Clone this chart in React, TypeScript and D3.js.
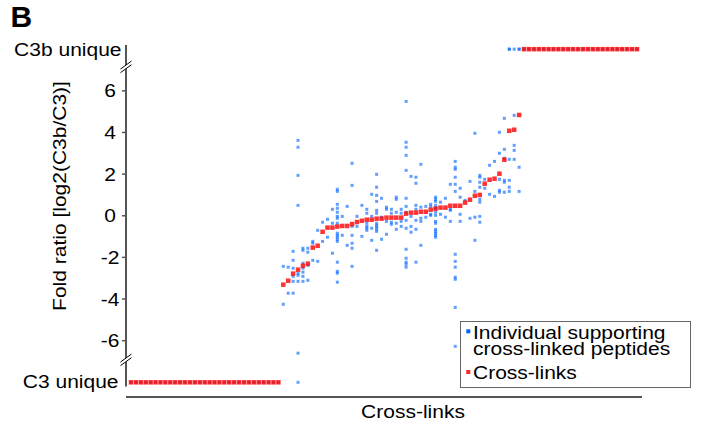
import React from 'react';
import * as d3 from 'd3';

// ---- data ----
const nC3Unique = 31; // cross-links found only in C3
const nC3bUnique = 24; // cross-links found only in C3b
const crossLinkRatios = [
  -3.31, -3.12, -2.78, -2.59, -2.4, -2.3, -1.53, -1.44, -0.77, -0.57, -0.57, -0.52, -0.49,
  -0.49, -0.4, -0.3, -0.24, -0.19, -0.19, -0.14, -0.14, -0.09, -0.09, -0.09, -0.09, 0.1,
  0.15, 0.15, 0.19, 0.19, 0.29, 0.34, 0.39, 0.39, 0.48, 0.48, 0.48, 0.63, 0.77, 0.96, 1.0,
  1.54, 1.73, 1.78, 2.02, 2.69, 4.08, 4.13, 4.84,
];
// individual supporting peptides for each quantified cross-link ('C3' / 'C3b' = unique)
const peptideRatios: (number | string)[][] = [
  [-2.43, -4.25],
  [-2.47, -3.72],
  [-1.71, -2.14, -2.52, -2.91, -3.15, -3.72],
  [3.62, 3.29, 1.94, 0.5, -2.76, -2.86, -3.15, -6.6, 'C3'],
  [-1.56, -1.66, -2.28, -2.52, -2.71, -2.91, -3.15],
  [-1.56, -1.75, -2.38, -3.1],
  [-1.23, -1.32, -2.14],
  [-0.7, -2.19],
  [-0.31, -1.23],
  [-0.17, -1.03],
  [0.31, -0.36, -1.8],
  [1.27, 1.17, 0.55, 0.36, 0.17, -0.03, -0.12, -0.36, -0.84, -0.94, -1.03, -1.13, -1.23, -2.23, -2.67, -2.76, -3.19],
  [-0.03, -0.94],
  [0.45, -1.42],
  [2.52, 1.46, -0.51, -0.94, -1.32, -1.56, -2.43],
  [-0.03, -0.51],
  [0.5, -0.99],
  [0.31, 0.12, -0.36, -0.51, -0.6, -0.7],
  [1.03, -0.03, -0.6, -1.18],
  [1.99, 1.37, 0.98, 0.69, 0.26, 0.12, -0.36, -0.46, -0.55, -0.65, -0.75, -1.66],
  [0.84, -0.07, -1.13],
  [0.41, 0.31, -0.27, -0.89],
  [0.31, 0.12, -0.31, -0.41],
  [0.89, 0.79, 0.17, -0.36, -0.65],
  [0.31, 0.12, -0.27, -0.51],
  [5.49, 3.53, 3.29, 2.9, 2.18, 0.84, 0.45, 0.17, -0.22, -0.6, -1.61, -2.04, -2.23, -2.33, -2.47],
  [1.89, -0.03, -0.51, -0.79],
  [1.85, 1.56, 0.5, 0.31, -0.22, -0.65, -2.23],
  [2.47, 0.41, -0.12, -0.27, -1.42],
  [0.45, -0.07],
  [0.55, 0.45, 0.07, 0.02],
  [0.89, 0.79, 0.69, 0.5, 0.36, 0.17, 0.02, -0.27, -0.36, -0.65, -0.75, -0.84, -0.94, -1.03],
  [0.65, 0.07],
  [0.84, -0.07],
  [1.51, 0.31, 0.26, -0.27],
  [2.61, 2.33, 2.23, 1.85, 1.51, 1.17, -1.85, -2.19, -2.47, -2.95, -3.05, -4.4, -6.27],
  [1.32, 0.89, 0.07, -0.27],
  [0.74],
  [1.65, -0.12],
  [3.96, 1.17, -0.07, -1.18],
  [1.94, 1.85, 1.61, 1.37, 0.79, 0.65, -0.03, -0.31],
  [1.75, 1.32],
  [2.42, 1.03],
  [2.61, 0.93],
  [4.01, 3.0, 1.75, 1.22, 1.13],
  [4.68, 3.19, 2.76, 1.7, 1.61, 1.13],
  [2.71, 1.7, 1.37, 1.17, 'C3b', 'C3b'],
  [4.82, 3.38, 3.14, 2.71, 'C3b'],
  [2.33, 1.17, 'C3b', 'C3b'],
];
const yTicks = [-6, -4, -2, 0, 2, 4, 6];
const uniqueLabels = ['C3b unique', 'C3 unique'];
const legendLabels = [['Individual supporting', 'cross-linked peptides'], ['Cross-links']];
const panelLabel = 'B';
const xTitle = 'Cross-links';
const yTitle = 'Fold ratio [log2(C3b/C3)]';

// ---- styles ----
const W = 702;
const H = 430;
const BLUE = '#0064ff';
const RED = '#ff0000';
const AXIS = '#555555';
const FONT = '"Liberation Sans", Arial, Helvetica, sans-serif';

function Txt({ x, y, rot = 0, anchor = 'start', size = 21, weight = 'normal', sy = 0.9, children }: any) {
  return (
    <g transform={`translate(${x},${y}) rotate(${rot}) scale(1,${sy})`}>
      <text fontFamily={FONT} fontSize={size} fontWeight={weight} textAnchor={anchor} fill="#000">
        {children}
      </text>
    </g>
  );
}

export default function App() {
  const nMid = crossLinkRatios.length;
  const total = nC3Unique + nMid + nC3bUnique;
  const x = d3.scalePoint<number>().domain(d3.range(total)).range([131, 637]);
  const y = d3.scaleLinear().domain([-8.2, 8.2]).range([386.5, 45]);
  const UNIQUE = 8;
  const yv = (v: number | string) => (v === 'C3b' ? y(UNIQUE) : v === 'C3' ? y(-UNIQUE) : y(v as number));

  const reds = [
    ...d3.range(nC3Unique).map((i) => ({ i, v: 'C3' as number | string })),
    ...crossLinkRatios.map((v, k) => ({ i: nC3Unique + k, v: v as number | string })),
    ...d3.range(nC3bUnique).map((k) => ({ i: nC3Unique + nMid + k, v: 'C3b' as number | string })),
  ];
  const blues = [
    ...d3.range(nC3Unique).map((i) => ({ i, v: 'C3' as number | string })),
    ...peptideRatios.flatMap((arr, k) => arr.map((v) => ({ i: nC3Unique + k, v }))),
    ...d3.range(nC3bUnique).map((k) => ({ i: nC3Unique + nMid + k, v: 'C3b' as number | string })),
  ];

  const axisX = 126;
  const bs = 3; // blue size
  const rs = 4.5; // red size

  const breakMark = (yc: number, key: string) => {
    const hw = 5.5;
    const dy = 4; // vertical rise over half-width
    const gap = 1.8;
    const p = (sx: number, off: number) => `${axisX + sx * hw},${yc - sx * dy + off}`;
    return (
      <g key={key}>
        <polygon points={`${p(-1, -gap)} ${p(1, -gap)} ${p(1, gap)} ${p(-1, gap)}`} fill="#fff" />
        <line x1={axisX - hw} y1={yc + dy - gap} x2={axisX + hw} y2={yc - dy - gap} stroke="#000" strokeWidth={1} />
        <line x1={axisX - hw} y1={yc + dy + gap} x2={axisX + hw} y2={yc - dy + gap} stroke="#000" strokeWidth={1} />
      </g>
    );
  };

  return (
    <svg width={W} height={H} style={{ position: 'absolute', left: 0, top: 0 }}>
      <rect width={W} height={H} fill="#fff" />
      <Txt x={10.5} y={26.7} size={30} weight="bold" sy={1}>
        {panelLabel}
      </Txt>

      {/* y axis */}
      <line x1={axisX} x2={axisX} y1={y(8.2)} y2={y(-8.2)} stroke={AXIS} strokeWidth={2} />
      {yTicks.map((t) => (
        <g key={t}>
          <line x1={axisX - 4} x2={axisX} y1={y(t)} y2={y(t)} stroke={AXIS} strokeWidth={1.5} />
          <Txt x={110} y={y(t) + 6.5} anchor="middle">
            {String(t)}
          </Txt>
        </g>
      ))}
      <Txt x={121.5} y={y(UNIQUE) + 6.5} anchor="end">
        {uniqueLabels[0]}
      </Txt>
      <Txt x={118.5} y={y(-UNIQUE) + 5.5} anchor="end">
        {uniqueLabels[1]}
      </Txt>
      {breakMark(y(7.15), 'bt')}
      {breakMark(y(-6.92), 'bb')}
      <Txt x={66} y={196} rot={-90} anchor="middle">
        {yTitle}
      </Txt>

      {/* x axis */}
      <line x1={axisX} x2={642} y1={397} y2={397} stroke={AXIS} strokeWidth={2} />
      <Txt x={413} y={418} anchor="middle">
        {xTitle}
      </Txt>

      {/* points */}
      <g fill={BLUE} fillOpacity={0.62}>
        {blues.map((d, k) => (
          <rect key={k} x={(x(d.i) as number) - bs / 2} y={yv(d.v) - bs / 2} width={bs} height={bs} />
        ))}
      </g>
      <g fill={RED} fillOpacity={0.8}>
        {reds.map((d, k) => (
          <rect key={k} x={(x(d.i) as number) - rs / 2} y={yv(d.v) - rs / 2} width={rs} height={rs} />
        ))}
      </g>

      {/* legend */}
      <rect x={460.5} y={321.5} width={230} height={66} fill="#fff" stroke="#666" strokeWidth={1} />
      <rect x={466.3} y={329.3} width={4} height={4} fill={BLUE} />
      <Txt x={473} y={339.3}>{legendLabels[0][0]}</Txt>
      <Txt x={473} y={355}>{legendLabels[0][1]}</Txt>
      <rect x={466.3} y={370} width={4} height={4} fill={RED} fillOpacity={0.85} />
      <Txt x={473} y={379.3}>{legendLabels[1][0]}</Txt>
    </svg>
  );
}
